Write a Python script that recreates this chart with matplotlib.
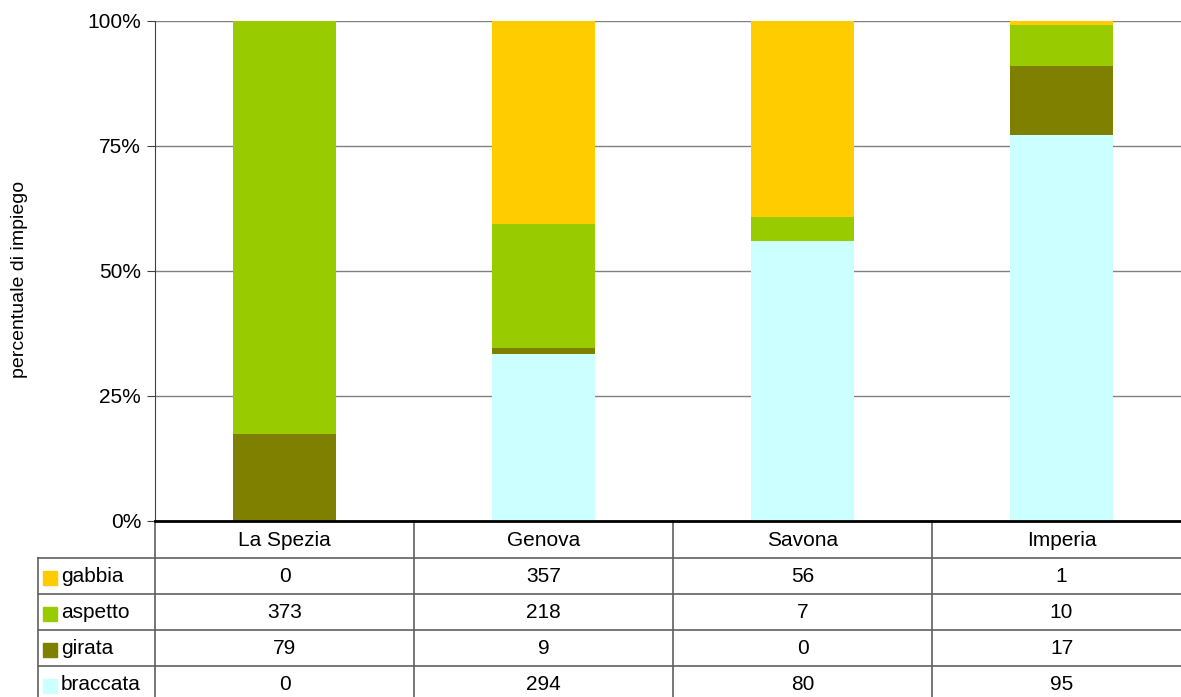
import matplotlib.pyplot as plt
import numpy as np
from matplotlib.transforms import blended_transform_factory

plt.rcParams['font.family'] = ['Liberation Sans', 'DejaVu Sans']

# Numero di impieghi per provincia e tecnica
PROVINCE = ["La Spezia", "Genova", "Savona", "Imperia"]
TECNICHE = ["braccata", "girata", "aspetto", "gabbia"]
BRACCATA = [0, 294, 80, 95]
GIRATA = [79, 9, 0, 17]
ASPETTO = [373, 218, 7, 10]
GABBIA = [0, 357, 56, 1]
COLORI = ["#CCFFFF", "#808000", "#99CC00", "#FFCC00"]

FS = 15

W, H = 1181, 697
fig = plt.figure(figsize=(W / 100, H / 100), dpi=100)
# area del grafico in pixel: x 155..1191, y 21..521
ax = fig.add_axes([155 / W, 1 - 521 / H, 1036 / W, 500 / H])

valori = np.array([BRACCATA, GIRATA, ASPETTO, GABBIA], dtype=float)
perc = valori / valori.sum(axis=0) * 100
x = np.arange(len(PROVINCE))
bottom = np.zeros(len(PROVINCE))
for serie, col in zip(perc, COLORI):
    ax.bar(x, serie, bottom=bottom, width=0.4, color=col, zorder=2)
    bottom += serie

ax.set_xlim(-0.5, len(PROVINCE) - 0.5)
ax.set_ylim(0, 100)
ax.set_yticks([0, 25, 50, 75, 100])
ax.set_yticklabels(["0%", "25%", "50%", "75%", "100%"], fontsize=FS)
ax.set_xticks([])
ax.yaxis.grid(True, color="#808080", linewidth=1, zorder=0)
ax.tick_params(axis="y", length=6, color="#404040", pad=4)
for s in ["top", "right"]:
    ax.spines[s].set_visible(False)
ax.spines["left"].set_color("#404040")
ax.spines["bottom"].set_color("black")
ax.spines["bottom"].set_linewidth(2)
ax.spines["bottom"].set_zorder(5)
fig.text(20 / W, 1 - 279 / H, "percentuale di impiego", rotation=90,
         ha="center", va="center", fontsize=14)

# tabella dei dati sotto il grafico
tr = blended_transform_factory(ax.transData, ax.transAxes)
def ay(py):
    return (521 - py) / 500

righe = [("gabbia", GABBIA, "#FFCC00"), ("aspetto", ASPETTO, "#99CC00"),
         ("girata", GIRATA, "#808000"), ("braccata", BRACCATA, "#CCFFFF")]
row_tops = [558, 594, 630, 666]
row_h = 36
lc = "#606060"

# linee orizzontali della tabella
for yt in row_tops:
    ax.plot([-0.5 - 117 / 259, 3.5], [ay(yt), ay(yt)], transform=tr,
            color=lc, lw=1.2, clip_on=False)
# linee verticali
for xv in np.arange(-0.5, 3.6, 1.0):
    ax.plot([xv, xv], [0, ay(710)], transform=tr, color=lc, lw=1.2, clip_on=False)
ax.plot([-0.5 - 117 / 259] * 2, [ay(558), ay(710)], transform=tr,
        color=lc, lw=1.2, clip_on=False)

# intestazioni delle colonne
for i, p in enumerate(PROVINCE):
    ax.text(i, ay(540), p, transform=tr, ha="center", va="center", fontsize=FS)

# righe con legenda e valori
for (nome, vals, col), yt in zip(righe, row_tops):
    yc = ay(yt + row_h / 2)
    ax.add_patch(plt.Rectangle((-0.5 - 112 / 259, ay(yt + 27)), 14 / 259, 14 / 500,
                               transform=tr, color=col, clip_on=False))
    ax.text(-0.5 - 94 / 259, yc, nome, transform=tr, ha="left", va="center", fontsize=FS)
    for i, v in enumerate(vals):
        ax.text(i, yc, str(v), transform=tr, ha="center", va="center", fontsize=FS)

fig.savefig("out.png", dpi=100)
